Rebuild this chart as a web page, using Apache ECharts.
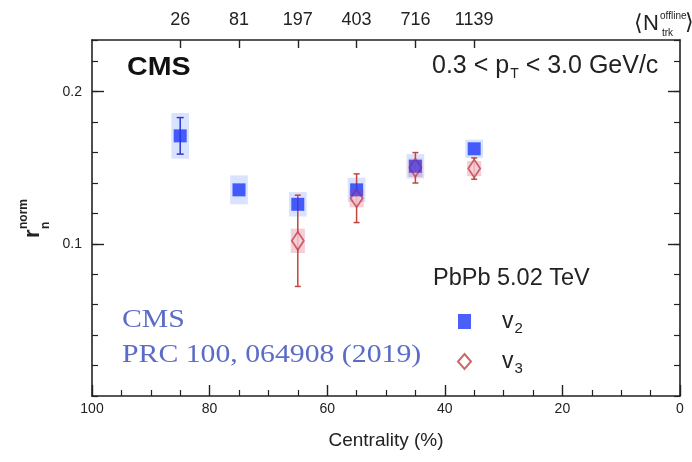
<!DOCTYPE html>
<html>
<head>
<meta charset="utf-8">
<script src="https://cdn.jsdelivr.net/npm/echarts@6/dist/echarts.min.js"></script>
<style>
  html, body { margin: 0; padding: 0; background: #fff; }
  #chart { width: 692px; height: 462px; }
</style>
</head>
<body>
<div id="chart"></div>
<script>
// Centrality classes and the matching mean offline track multiplicity
const centrality = [85, 75, 65, 55, 45, 35];
const nTrkOffline = [26, 81, 197, 403, 716, 1139];

// v2: value, statistical and systematic uncertainty
const v2Value = [0.171, 0.1355, 0.126, 0.1355, 0.151, 0.1625];
const v2Stat  = [0.012, 0.002, 0.002, 0.002, 0.002, 0.002];
const v2Sys   = [0.015, 0.0095, 0.008, 0.008, 0.008, 0.006];

// v3: only measured in the four most central classes
const v3Centrality = [65, 55, 45, 35];
const v3Value = [0.102, 0.130, 0.150, 0.1495];
const v3Stat  = [0.030, 0.016, 0.010, 0.007];
const v3Sys   = [0.008, 0.006, 0.006, 0.005];

// Axis ticks
const yLabelTicks = [0.1, 0.2];

const FONT = 'Liberation Sans, Arial, Helvetica, sans-serif';
const SERIF = 'Liberation Serif, Times New Roman, serif';
const INK = '#222';
const V2_COLOR = 'rgb(30,56,250)';
const V3_COLOR = '#c2453f';

const v2Data = centrality.map((c, i) => [c, v2Value[i], v2Stat[i], v2Sys[i]]);
const v3Data = v3Centrality.map((c, i) => [c, v3Value[i], v3Stat[i], v3Sys[i]]);

// Error bars; bars hidden inside the marker are not drawn
function errorBars(color, capHalf, markerHalf) {
  return function (params, api) {
    const x = api.value(0), y = api.value(1), e = api.value(2);
    const top = api.coord([x, y + e]);
    const bot = api.coord([x, y - e]);
    if (Math.abs(bot[1] - top[1]) / 2 <= markerHalf) return null;
    const st = { stroke: color, lineWidth: 1.5 };
    return {
      type: 'group',
      children: [
        { type: 'line', shape: { x1: top[0], y1: top[1], x2: bot[0], y2: bot[1] }, style: st },
        { type: 'line', shape: { x1: top[0] - capHalf, y1: top[1], x2: top[0] + capHalf, y2: top[1] }, style: st },
        { type: 'line', shape: { x1: bot[0] - capHalf, y1: bot[1], x2: bot[0] + capHalf, y2: bot[1] }, style: st }
      ]
    };
  };
}

function sysBoxes(fill, halfWidth) {
  return function (params, api) {
    const x = api.value(0), y = api.value(1), s = api.value(3);
    const a = api.coord([x + halfWidth, y + s]);
    const b = api.coord([x - halfWidth, y - s]);
    return {
      type: 'rect',
      shape: {
        x: Math.min(a[0], b[0]), y: Math.min(a[1], b[1]),
        width: Math.abs(a[0] - b[0]), height: Math.abs(a[1] - b[1])
      },
      style: { fill: fill }
    };
  };
}

const chart = echarts.init(document.getElementById('chart'), null, { renderer: 'canvas' });

const frameLine = { show: true, onZero: false, lineStyle: { color: INK, width: 1.6 } };
const noLine = { show: false, onZero: false };

chart.setOption({
  animation: false,
  backgroundColor: '#fff',
  grid: { left: 92, right: 12, top: 40, bottom: 66, containLabel: false },
  xAxis: [
    {
      type: 'value', position: 'bottom', min: 0, max: 100, interval: 20, inverse: true,
      axisLine: frameLine,
      axisTick: { show: true, inside: true, length: 11, lineStyle: { color: INK, width: 1.4 } },
      minorTick: { show: true, splitNumber: 4, length: 6, lineStyle: { color: INK, width: 1.2 } },
      axisLabel: { show: true, margin: 6, fontFamily: FONT, fontSize: 14, color: INK },
      splitLine: { show: false },
      name: 'Centrality (%)', nameLocation: 'middle', nameGap: 35,
      nameTextStyle: { fontFamily: FONT, fontSize: 19, color: INK }
    },
    {
      type: 'value', position: 'top', min: 0, max: 100, inverse: true,
      axisLine: frameLine,
      axisTick: { show: true, inside: true, length: 8, customValues: centrality, lineStyle: { color: INK, width: 1.4 } },
      axisLabel: {
        show: true, margin: 11, customValues: centrality, fontFamily: FONT, fontSize: 18, color: INK,
        formatter: v => String(nTrkOffline[centrality.indexOf(v)])
      },
      splitLine: { show: false }
    }
  ],
  yAxis: [
    {
      // left frame: minor ticks every 0.02 plus labels
      type: 'value', position: 'left', min: 0, max: 0.234, interval: 0.02,
      axisLine: frameLine,
      axisTick: { show: true, inside: true, length: 6, lineStyle: { color: INK, width: 1.2 } },
      axisLabel: {
        show: true, customValues: yLabelTicks, margin: 10, fontFamily: FONT, fontSize: 14, color: INK,
        formatter: v => v.toFixed(1)
      },
      splitLine: { show: false }
    },
    {
      // left frame: major ticks
      type: 'value', position: 'left', min: 0, max: 0.234,
      axisLine: noLine,
      axisTick: { show: true, inside: true, length: 12, customValues: yLabelTicks, lineStyle: { color: INK, width: 1.4 } },
      axisLabel: { show: false }, splitLine: { show: false }
    },
    {
      // right frame: minor ticks
      type: 'value', position: 'right', min: 0, max: 0.234, interval: 0.02,
      axisLine: frameLine,
      axisTick: { show: true, inside: true, length: 6, lineStyle: { color: INK, width: 1.2 } },
      axisLabel: { show: false }, splitLine: { show: false }
    },
    {
      // right frame: major ticks
      type: 'value', position: 'right', min: 0, max: 0.234,
      axisLine: noLine,
      axisTick: { show: true, inside: true, length: 12, customValues: yLabelTicks, lineStyle: { color: INK, width: 1.4 } },
      axisLabel: { show: false }, splitLine: { show: false }
    }
  ],
  legend: {
    show: true, orient: 'vertical', left: 452, top: 305,
    itemWidth: 13, itemHeight: 15, itemGap: 14,
    data: [
      { name: 'v2', icon: 'rect' },
      { name: 'v3', icon: 'diamond' }
    ],
    formatter: name => '{v|v}{s|' + name.slice(1) + '}',
    textStyle: {
      padding: [0, 0, 0, 26],
      rich: {
        v: { fontFamily: FONT, fontSize: 23, color: INK },
        s: { fontFamily: FONT, fontSize: 15, color: INK, padding: [14, 0, 0, 1] }
      }
    }
  },
  graphic: [
    { type: 'text', left: 127, top: 55, scaleX: 1.1, style: { text: 'CMS', fontFamily: FONT, fontWeight: 'bold', fontSize: 26, fill: '#111' } },
    {
      type: 'text', left: 432, top: 54,
      style: {
        text: '0.3 < p{s|T} < 3.0 GeV/c', fontFamily: FONT, fontSize: 25, fill: INK,
        rich: { s: { fontFamily: FONT, fontSize: 14, fill: INK, padding: [15, 0, 0, 1] } }
      }
    },
    { type: 'text', left: 433, top: 267, style: { text: 'PbPb 5.02 TeV', fontFamily: FONT, fontSize: 23.5, fill: INK } },
    { type: 'text', left: 122, top: 308, scaleX: 1.19, style: { text: 'CMS', fontFamily: SERIF, fontSize: 25, fill: '#5a6cc6' } },
    { type: 'text', left: 122, top: 343, scaleX: 1.19, style: { text: 'PRC 100, 064908 (2019)', fontFamily: SERIF, fontSize: 25, fill: '#5a6cc6' } },
    // y-axis title r_n^norm, rotated
    {
      type: 'group', x: 44, y: 238, rotation: Math.PI / 2,
      children: [
        { type: 'text', x: 0, y: 0, style: { text: 'r', fontFamily: FONT, fontWeight: 'bold', fontSize: 22, fill: INK, verticalAlign: 'bottom' } },
        { type: 'text', x: 9, y: 8, style: { text: 'n', fontFamily: FONT, fontWeight: 'bold', fontSize: 12, fill: INK, verticalAlign: 'bottom' } },
        { type: 'text', x: 9, y: -14, style: { text: 'norm', fontFamily: FONT, fontWeight: 'bold', fontSize: 12, fill: INK, verticalAlign: 'bottom' } }
      ]
    },
    // top axis title <N_trk^offline>
    {
      type: 'group', x: 634, y: 35,
      children: [
        { type: 'text', x: 0, y: 0, style: { text: '\u27E8N', fontFamily: FONT, fontSize: 22, fill: INK, verticalAlign: 'bottom' } },
        { type: 'text', x: 26, y: -14, style: { text: 'offline', fontFamily: FONT, fontSize: 10, fill: INK, verticalAlign: 'bottom' } },
        { type: 'text', x: 28, y: 3, style: { text: 'trk', fontFamily: FONT, fontSize: 10, fill: INK, verticalAlign: 'bottom' } },
        { type: 'text', x: 51, y: -1, style: { text: '\u27E9', fontFamily: FONT, fontSize: 22, fill: INK, verticalAlign: 'bottom' } }
      ]
    }
  ],
  series: [
    {
      name: 'v2 sys', type: 'custom', data: v2Data, renderItem: sysBoxes('rgba(120,150,255,0.28)', 1.5),
      encode: { x: 0, y: 1 }, z: 1, silent: true
    },
    {
      name: 'v3 stat', type: 'custom', data: v3Data, renderItem: errorBars(V3_COLOR, 3, 0),
      encode: { x: 0, y: 1 }, z: 2, silent: true
    },
    {
      name: 'v3', type: 'scatter', data: v3Data.map(d => [d[0], d[1]]),
      symbol: 'diamond', symbolSize: [12, 18],
      itemStyle: { color: '#fff', borderColor: V3_COLOR, borderWidth: 1.8 },
      z: 3
    },
    {
      name: 'v2 stat', type: 'custom', data: v2Data, renderItem: errorBars('#2a3ad0', 3.5, 7),
      encode: { x: 0, y: 1 }, z: 4, silent: true
    },
    {
      name: 'v2', type: 'scatter', data: v2Data.map(d => [d[0], d[1]]),
      symbol: 'rect', symbolSize: 13,
      itemStyle: { color: V2_COLOR },
      z: 5
    },
    {
      // v3 systematic band, translucent over the v2 markers
      name: 'v3 sys', type: 'custom', data: v3Data, renderItem: sysBoxes('rgba(210,50,90,0.24)', 1.2),
      encode: { x: 0, y: 1 }, z: 6, silent: true
    }
  ]
});
</script>
</body>
</html>
